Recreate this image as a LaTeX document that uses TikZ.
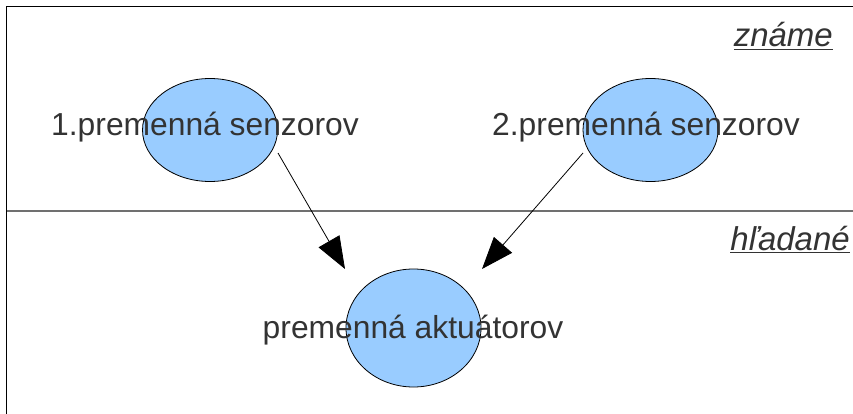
\documentclass[tikz,border=0pt]{standalone}
\usepackage{fontspec}
\setmainfont{Liberation Sans}
\usetikzlibrary{shapes.geometric,arrows.meta}
\definecolor{txtgray}{HTML}{333333}
\definecolor{ellfill}{HTML}{99CCFF}
\definecolor{midline}{HTML}{707070}
\tikzset{
  var/.style={ellipse, draw=black, line width=0.8pt, fill=ellfill, inner sep=0pt},
  lab/.style={text=txtgray, font=\fontsize{31.8}{36}\selectfont, inner sep=0pt},
  zone/.style={text=txtgray, font=\fontsize{33}{36}\selectfont\itshape, inner sep=0pt, anchor=base east},
  conn/.style={line width=0.8pt, -{Triangle[length=32pt,width=24pt]}}
}
\begin{document}
\begin{tikzpicture}[x=1pt,y=-1pt]
\useasboundingbox (0,0) rectangle (853,414);
\fill[white] (0,0) rectangle (853,414);
% frame lines
\draw[line width=1pt] (853,6.5) -- (6.5,6.5) -- (6.5,414);
\draw[midline, line width=1.4pt] (6.5,211) -- (853,211);
% zone labels
\node[zone] (known) at (833,47) {\underline{známe}};
\node[zone] (sought) at (850,250) {\underline{hľadané}};
% ellipses
\node[var, minimum width=135pt, minimum height=103pt] (e1) at (210,130) {};
\node[var, minimum width=135pt, minimum height=103pt] (e2) at (650.5,130) {};
\node[var, minimum width=135pt, minimum height=118pt] (e3) at (413.5,328) {};
% texts
\node[lab] (t1) at (205,127) {1.premenná senzorov};
\node[lab] (t2) at (646,127) {2.premenná senzorov};
\node[lab] (t3) at (413,330) {premenná aktuátorov};
% arrow ends
\coordinate (a1s) at (278,153);
\coordinate (a1e) at (345,269);
\coordinate (a2s) at (583,153);
\coordinate (a2e) at (482,269);
\draw[conn] (a1s) -- (a1e);
\draw[conn] (a2s) -- (a2e);
\end{tikzpicture}
\end{document}
